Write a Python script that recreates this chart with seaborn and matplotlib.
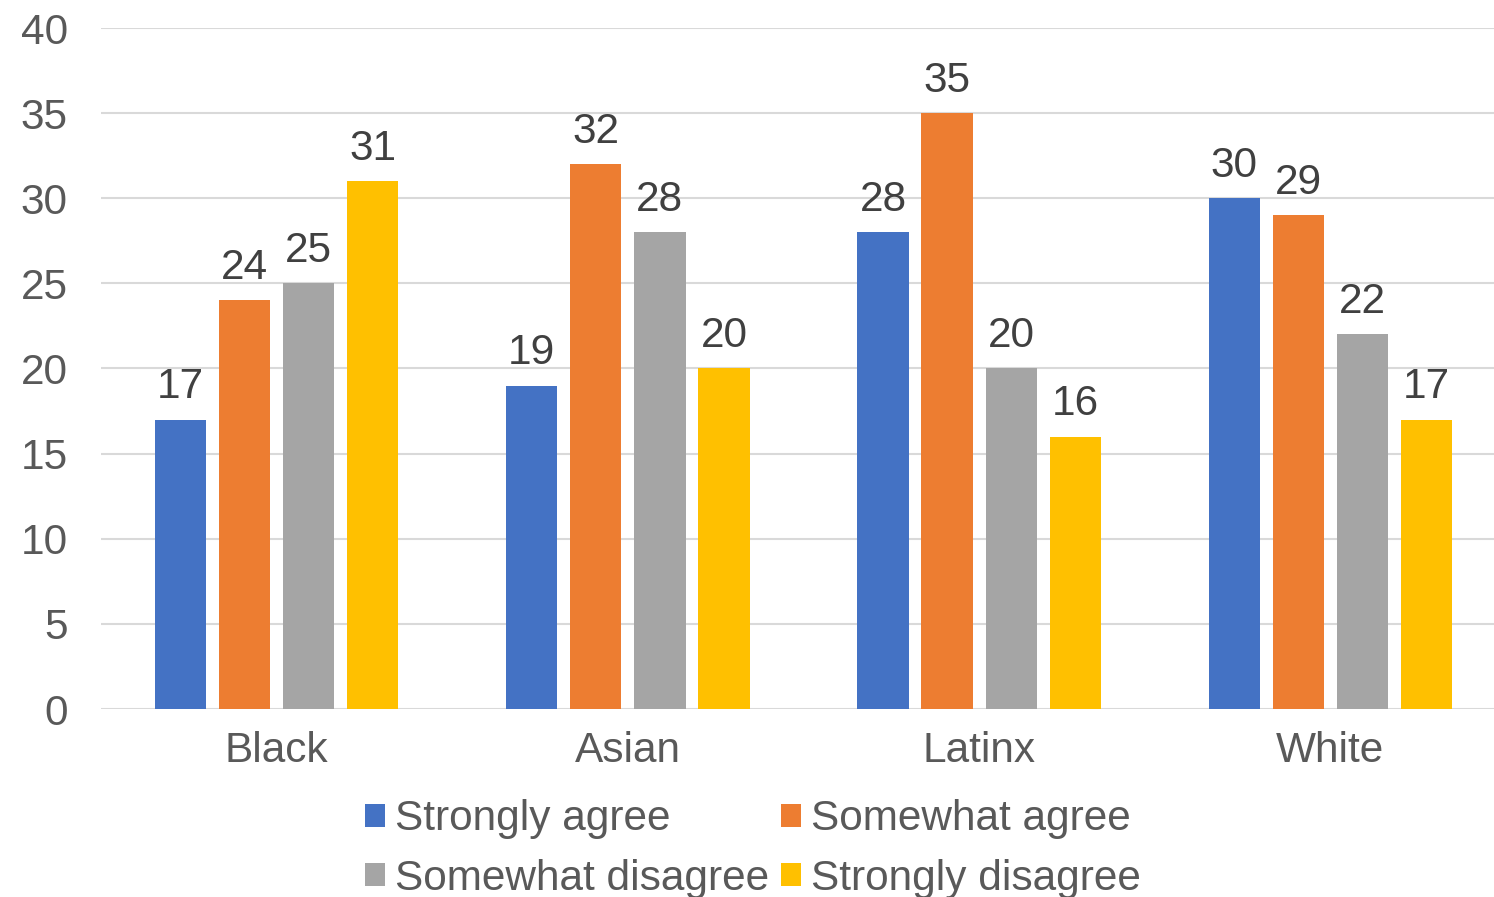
import matplotlib
matplotlib.use("Agg")
import matplotlib.pyplot as plt
import seaborn as sns
import pandas as pd

# ---- data ----
groups = ["Black", "Asian", "Latinx", "White"]
responses = ["Strongly agree", "Somewhat agree", "Somewhat disagree", "Strongly disagree"]
strongly_agree = [17, 19, 28, 30]
somewhat_agree = [24, 32, 35, 29]
somewhat_disagree = [25, 28, 20, 22]
strongly_disagree = [31, 20, 16, 17]

colors = ["#4472C4", "#ED7D31", "#A5A5A5", "#FFC000"]

rows = []
for resp, vals in zip(responses, [strongly_agree, somewhat_agree, somewhat_disagree, strongly_disagree]):
    for g, v in zip(groups, vals):
        rows.append({"group": g, "response": resp, "value": v})
df = pd.DataFrame(rows)

sns.set_style("white")
plt.rcParams["font.family"] = ["Liberation Sans", "DejaVu Sans"]

fig = plt.figure(figsize=(14.94, 8.97), dpi=100)
ax = fig.add_axes([101 / 1494, 1 - 709 / 897, 1405 / 1494, (709 - 28) / 897])

sns.barplot(data=df, x="group", y="value", hue="response", order=groups,
            hue_order=responses, palette=colors, width=0.73, gap=0.2,
            linewidth=0, saturation=1, ax=ax)

for cont in ax.containers:
    ax.bar_label(cont, padding=9, fontsize=30.5, color="#404040")

ax.set_ylim(0, 40)
ax.set_yticks(range(0, 41, 5))
ax.set_xlim(-0.5, 3.5)
ax.set_xlabel("")
ax.set_ylabel("")
ax.grid(axis="y", color="#D9D9D9", linewidth=1.5)
ax.set_axisbelow(True)
for s in ax.spines.values():
    s.set_visible(False)
ax.tick_params(axis="y", length=0, pad=24, labelsize=30.5, labelcolor="#595959")
ax.tick_params(axis="x", length=0, pad=16, labelsize=30.5, labelcolor="#595959")
# the original's y labels sit a little above their gridlines
for lab in ax.get_yticklabels():
    lab.set_verticalalignment("center_baseline")

# legend filled row by row like the original
handles, labels = ax.get_legend_handles_labels()
ax.get_legend().remove()
order = [0, 2, 1, 3]
fig.legend([handles[i] for i in order], [labels[i] for i in order],
           loc="center", bbox_to_anchor=(753 / 1494, 1 - 849 / 897),
           ncol=2, frameon=False, fontsize=30.5, labelcolor="#595959",
           handlelength=0.47, handleheight=0.47, handletextpad=0.24,
           columnspacing=0.26, labelspacing=0.45, borderpad=0)

fig.savefig("out.png", dpi=100)
